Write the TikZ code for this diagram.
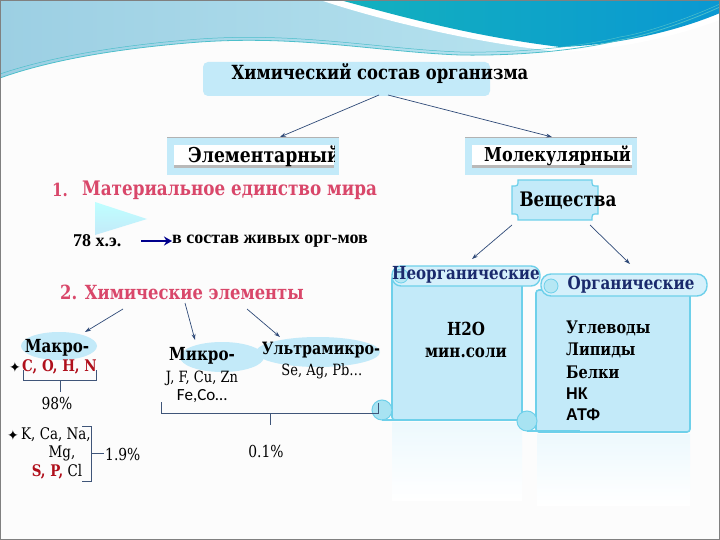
\documentclass[tikz,border=0pt]{standalone}
\usepackage{fontspec}
\setmainfont{DejaVu Serif}[FakeStretch=0.84]
\newfontfamily\tnrfont{Liberation Serif}
\newfontfamily\carlfont{Carlito}
\newfontfamily\dvsfont{DejaVu Sans}
\newfontfamily\arsfont{Liberation Sans}[FakeStretch=0.95]
\usetikzlibrary{arrows.meta,shapes.geometric}
\definecolor{lb}{HTML}{C3EAF9}
\definecolor{lbd}{HTML}{6ED0EA}
\definecolor{navy}{HTML}{2F4A78}
\definecolor{pinkred}{HTML}{D9476A}
\definecolor{dred}{HTML}{B0101C}
\definecolor{ttl}{HTML}{1A2A6C}
\definecolor{teal1}{HTML}{13B1BE}
\definecolor{teal2}{HTML}{0A98D2}
\definecolor{band1}{HTML}{9CCFE3}
\definecolor{band2}{HTML}{BFE9F3}
\definecolor{thinl}{HTML}{4DBFCB}
\tikzset{
  fsz/.style={font=\fontsize{#1}{#1}\selectfont},
  conn/.style={draw=navy, line width=0.7pt, -{Stealth[length=6pt,width=4pt]}},
  brk/.style={draw=navy!80!gray, line width=1pt},
  bubble/.style={ellipse, fill=lb, draw=none, inner sep=0pt},
  txt/.style={inner sep=0pt, anchor=center},
}
\begin{document}
\begin{tikzpicture}[x=1pt,y=-1pt]
\useasboundingbox (0,0) rectangle (720,540);
\fill[white!98!gray] (0,0) rectangle (720,540);
% top decoration
\shade[left color=band1, right color=band2]
  (0,0) -- (720,0) -- (720,7) .. controls (680,25) and (640,37) .. (620,40)
  .. controls (580,50) and (520,56) .. (460,55)
  .. controls (380,52) and (300,35) .. (200,42)
  .. controls (120,48) and (50,60) .. (0,78) -- cycle;
\fill[white] (320,0) .. controls (380,20) and (470,42) .. (560,52)
  .. controls (620,50) and (680,35) .. (720,20) -- (720,0) -- cycle;
\shade[left color=teal1, right color=teal2]
  (340,0) .. controls (420,22) and (480,37) .. (560,47)
  .. controls (620,45) and (680,30) .. (720,13) -- (720,0) -- cycle;
\draw[thinl, line width=0.8pt]
  (0,78) .. controls (50,60) and (120,48) .. (200,42)
  .. controls (300,35) and (380,52) .. (460,55)
  .. controls (520,56) and (580,50) .. (620,40)
  .. controls (640,37) and (680,25) .. (720,7);
\draw[thinl, line width=0.5pt]
  (0,74) .. controls (50,57) and (120,45) .. (200,39)
  .. controls (300,32) and (380,49) .. (460,52)
  .. controls (520,53) and (580,47) .. (620,37)
  .. controls (640,34) and (680,22) .. (720,4);
\draw[gray, line width=1pt] (0.5,0.5) rectangle (719.5,539.5);

% title box
\fill[lb, rounded corners=5] (203,62) rectangle (490,96);
\node[txt, fsz=19.5] (rtxt) at (380,74) {\bfseries Химический состав организма};
\coordinate (r1) at (379,95);
\coordinate (r2) at (388,95);

% level boxes
\foreach \x in {167, 465}{
  \fill[lb] (\x,137) rectangle ++(172,38);
  \draw[gray!60, line width=1.2pt] (\x,137.6) -- ++(172,0);
  \fill[white] (\x+7,145) rectangle ++(160,23);
  \fill[gray!55] (\x+7,165) rectangle ++(160,3);
}
\coordinate (el) at (280,137);
\coordinate (mo) at (552,137);
\begin{scope}
\clip (174,140) rectangle (334,172);
\node[txt, fsz=20.5, anchor=west] (eltxt) at (188,156) {\bfseries Элементарный};
\end{scope}
\begin{scope}
\clip (472,140) rectangle (631,172);
\node[txt, fsz=19.2, anchor=west] (motxt) at (484,156) {\bfseries Молекулярный};
\end{scope}
\draw[conn] (r1) -- (el);
\draw[conn] (r2) -- (mo);

% 1. material unity
\node[txt, fsz=18, anchor=west, text=pinkred] (one) at (52,190) {\bfseries 1.};
\node[txt, fsz=20, anchor=west, text=pinkred] (mat) at (82,190) {\bfseries Материальное единство мира};
\shade[top color=cyan!25, bottom color=lb] (95,202) -- (95,235) -- (147,219) -- cycle;
\node[txt, fsz=18, anchor=west] (x78) at (73,241) {\tnrfont\bfseries 78 х.э.};
\node[txt, fsz=18, anchor=west] (sost) at (172,241) {\tnrfont\bfseries в состав живых орг-мов};
\coordinate (a1) at (141,241);
\draw[draw=blue!55!black, line width=2.6pt, -{Stealth[length=8pt,width=9pt]}] (a1) -- (sost.west);

% Veshchestva
\filldraw[fill=lb, draw=lbd, line width=1.2pt]
  (518,180) -- (592,180) .. controls (592,186) .. (598,186) -- (598,214)
  .. controls (592,214) .. (592,220) -- (518,220) .. controls (518,214) .. (512,214)
  -- (512,186) .. controls (518,186) .. (518,180) -- cycle;
\node[txt, fsz=20] (vesh) at (568,201) {\bfseries Вещества};
\coordinate (v1) at (512,225);
\coordinate (v2) at (590,225);
\coordinate (ne) at (472,259);
\coordinate (or) at (630,264);
\draw[conn] (v1) -- (ne);
\draw[conn] (v2) -- (or);

% reflections
\shade[top color=lb!30, bottom color=white] (392,422) rectangle (522,500);
\shade[top color=lb!30, bottom color=white] (537,434) rectangle (690,505);

% scroll: Neorganicheskie
\filldraw[fill=lb, draw=lbd, line width=1.6pt, rounded corners=3] (392,276) rectangle (522,420);
\filldraw[fill=lbd!60, draw=lbd, line width=1pt] (382,410) circle (10);
\draw[lbd, line width=1.6pt] (382,420) -- (430,420);
\filldraw[fill=lb!70!white, draw=lbd, line width=1.4pt, rounded corners=9] (392,266) rectangle (540,286);
\filldraw[fill=lbd!50, draw=lbd, line width=0.8pt] (401,276) circle (7);
\node[txt, fsz=18, text=ttl] (neo) at (466,275) {\bfseries Неорганические};
\node[txt, fsz=18] (h2o) at (466,329) {\bfseries Н2О};
\node[txt, fsz=18] (min) at (466,353) {\bfseries мин.соли};

% scroll: Organicheskie
\filldraw[fill=lb, draw=lbd, line width=1.6pt, rounded corners=3] (536,290) rectangle (690,432);
\filldraw[fill=lbd!60, draw=lbd, line width=1pt] (527,421) circle (10);
\draw[lbd, line width=1.6pt] (527,431) -- (580,431);
\filldraw[fill=lb!70!white, draw=lbd, line width=1.4pt, rounded corners=10] (541,274) rectangle (707,296);
\filldraw[fill=lbd!50, draw=lbd, line width=0.8pt] (551,286) circle (7);
\node[txt, fsz=18, text=ttl] (org) at (631,285) {\bfseries Органические};
\node[txt, fsz=17.3, anchor=west] (u1) at (566,328) {\bfseries Углеводы};
\node[txt, fsz=17.3, anchor=west] (u2) at (566,350) {\bfseries Липиды};
\node[txt, fsz=17.3, anchor=west] (u3) at (566,372) {\bfseries Белки};
\node[txt, fsz=17, anchor=west] (u4) at (566,394) {\arsfont\bfseries НК};
\node[txt, fsz=17, anchor=west] (u5) at (566,415) {\arsfont\bfseries АТФ};

% 2. chemical elements
\node[txt, fsz=19.5, anchor=west, text=pinkred] (two) at (60,292) {\bfseries 2. Химические элементы};
\coordinate (c1) at (123,309);
\coordinate (c2) at (185,303);
\coordinate (c3) at (247,309);

\node[bubble, minimum width=76pt, minimum height=28pt] (macro) at (59,346) {};
\node[bubble, minimum width=84pt, minimum height=30pt] (micro) at (222,357) {};
\node[bubble, minimum width=124pt, minimum height=30pt] (ultra) at (318,352) {};
\node[txt, fsz=18] (mact) at (57,348) {\bfseries Макро-};
\node[txt, fsz=18] (mict) at (202,356) {\bfseries Микро-};
\node[txt, fsz=17] (ult) at (321,350) {\bfseries Ультрамикро-};
\coordinate (mac) at (85,332);
\coordinate (mic) at (195,340);
\coordinate (ulc) at (280,337);
\draw[conn] (c1) -- (mac);
\draw[conn] (c2) -- (mic);
\draw[conn] (c3) -- (ulc);

\node[txt, fsz=14, anchor=west] (st1) at (9,367) {\dvsfont ✦};
\node[txt, fsz=16, anchor=west, text=dred] (coh) at (22,367) {\bfseries C, O, H, N};
\draw[brk] (23,370) -- (23,380) -- (96,380) -- (96,370);
\coordinate (b1) at (60,380);
\coordinate (b1e) at (60,392);
\draw[brk] (b1) -- (b1e);
\node[txt, fsz=16.5] (p98) at (57,403) {98\%};

\node[txt, fsz=14, anchor=west] (st2) at (7,435) {\dvsfont ✦};
\node[txt, fsz=16, anchor=west] (kca) at (21,435) {K, Ca, Na,};
\node[txt, fsz=16] (mg) at (62,453) {Mg,};
\node[txt, fsz=16] (spcl) at (57,472) {\textcolor{dred}{\bfseries S, P,} Cl};
\draw[brk] (82,426) -- (91,426) -- (91,481) -- (82,481);
\coordinate (b2) at (91,453);
\coordinate (b2e) at (104,453);
\draw[brk] (b2) -- (b2e);
\node[txt, fsz=16.5, anchor=west] (p19) at (105,454) {1.9\%};

\node[txt, fsz=15.5] (jf) at (202,378) {J, F, Cu, Zn};
\node[txt, fsz=17] (feco) at (202,396) {\carlfont Fe,Co…};
\node[txt, fsz=15.5] (seag) at (322,371) {Se, Ag, Pb…};
\draw[brk] (161,402) -- (161,413) -- (378,413) -- (378,403);
\coordinate (b3) at (270,413);
\coordinate (b3e) at (270,425);
\draw[brk] (b3) -- (b3e);
\node[txt, fsz=16.5] (p01) at (266,451) {0.1\%};
\end{tikzpicture}
\end{document}
